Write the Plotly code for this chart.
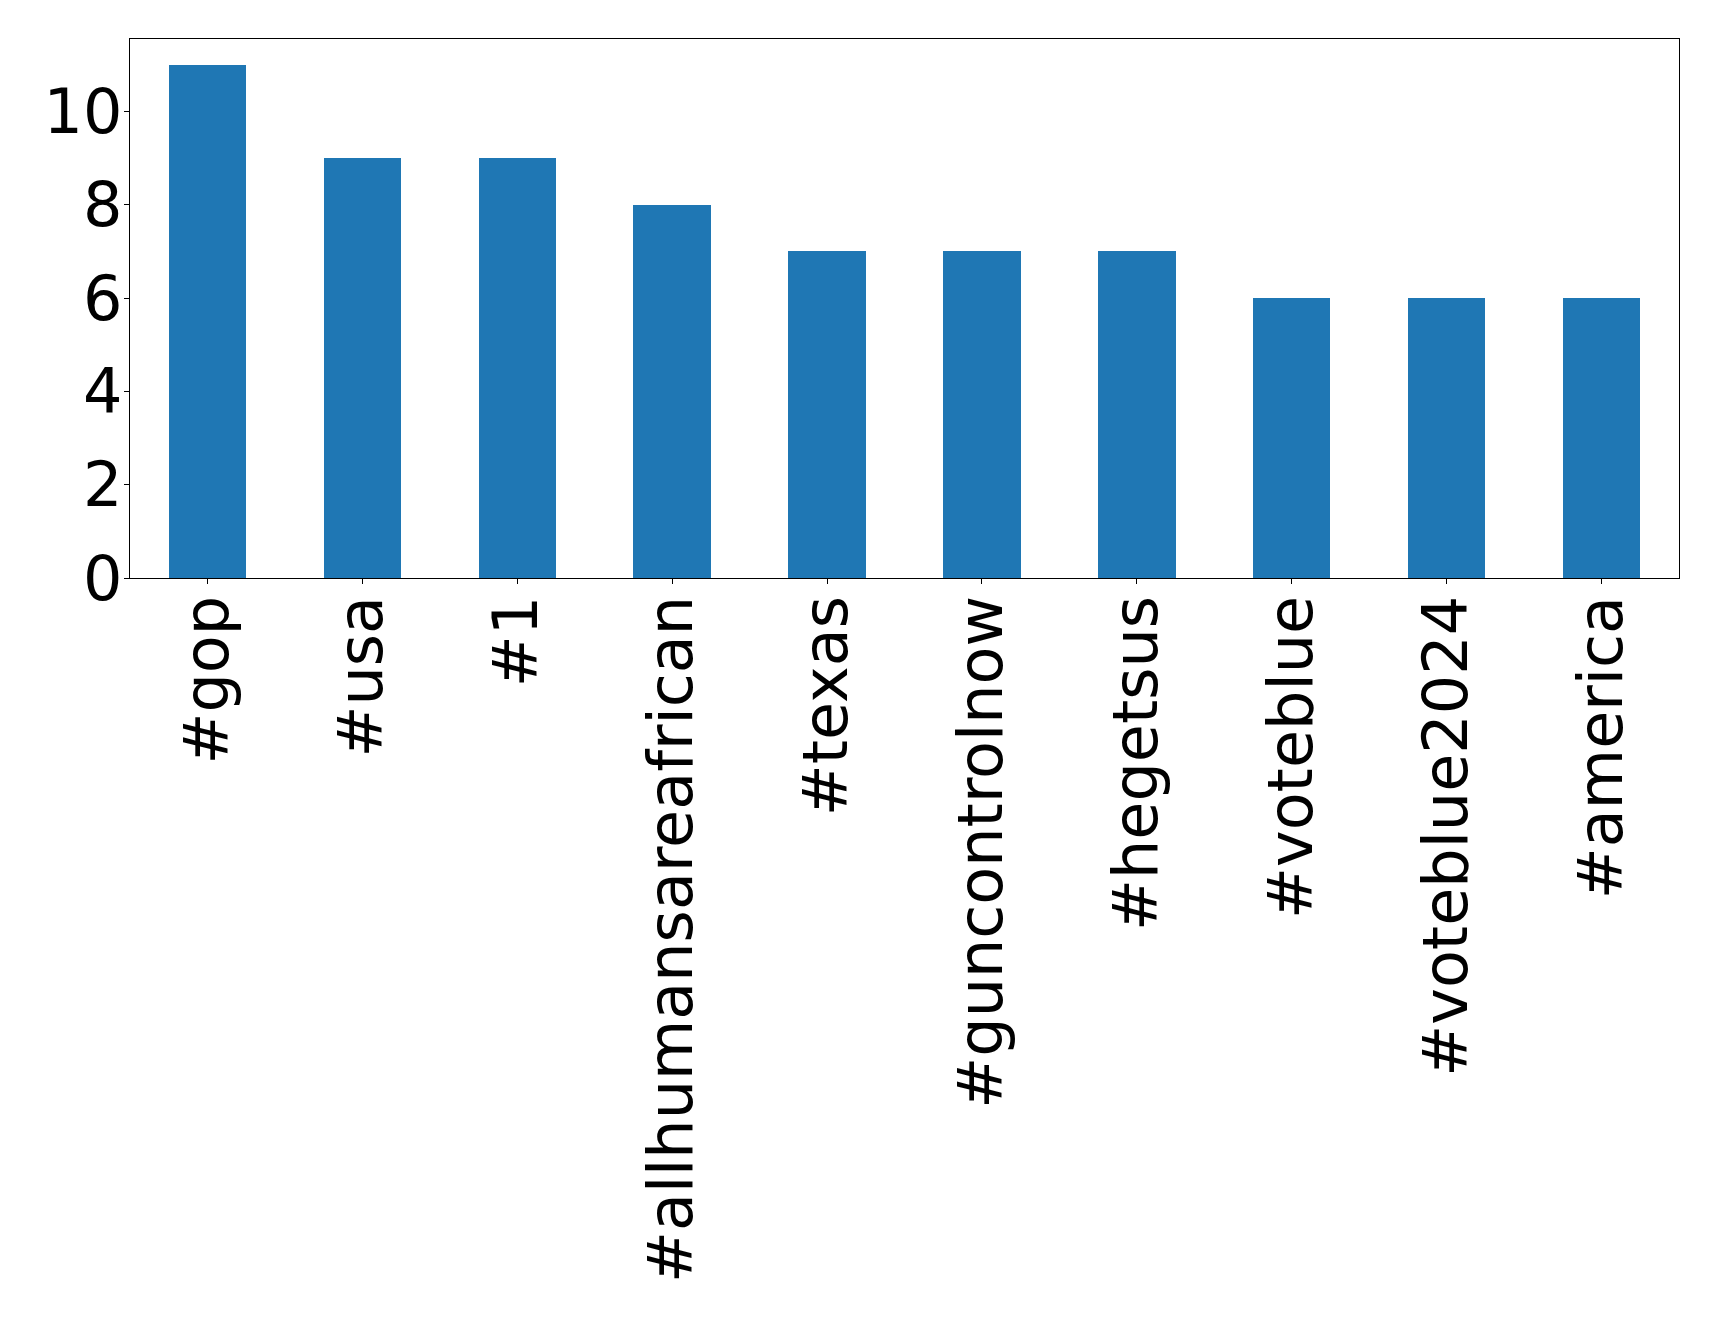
import plotly.graph_objects as go

hashtags = ["#gop", "#usa", "#1", "#allhumansareafrican", "#texas", "#guncontrolnow",
            "#hegetsus", "#voteblue", "#voteblue2024", "#america"]
counts = [11, 9, 9, 8, 7, 7, 7, 6, 6, 6]
y_ticks = [0, 2, 4, 6, 8, 10]

fig = go.Figure(go.Bar(x=hashtags, y=counts, marker_color="#1f77b4",
                       marker_line_width=0, width=0.5))

axis_common = dict(showline=True, linecolor="black", linewidth=1.2, mirror=True,
                   ticks="outside", ticklen=5, tickwidth=1.2, tickcolor="black",
                   showgrid=False, zeroline=False,
                   tickfont=dict(family="DejaVu Sans", size=62, color="black"))

fig.update_layout(
    width=1719, height=1320,
    margin=dict(l=121.5, r=47.7, t=31.3, b=750, autoexpand=False),
    paper_bgcolor="white", plot_bgcolor="white",
    showlegend=False,
    xaxis=dict(**axis_common, tickangle=-90, range=[-0.5, 9.5], ticklabelstandoff=-13),
    yaxis=dict(**axis_common, range=[0, 11.55], tickvals=y_ticks, ticklabelstandoff=-11),
    bargap=0,
)

fig.write_html("out.html")
